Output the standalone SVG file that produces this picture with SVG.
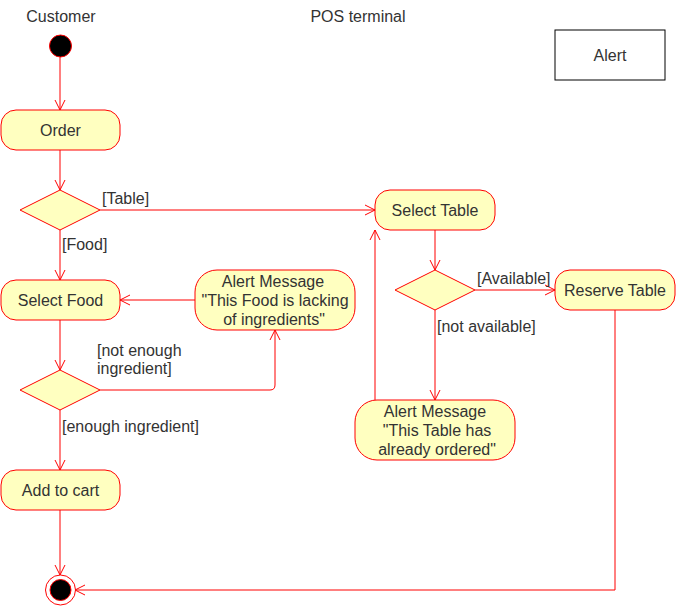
<svg xmlns="http://www.w3.org/2000/svg" width="676" height="606" viewBox="0 0 676 606">
<defs>
<marker id="arr" markerWidth="12" markerHeight="12" refX="10" refY="5" orient="auto" markerUnits="userSpaceOnUse" viewBox="0 0 12 10">
<path d="M0,0 L10,5 L0,10" fill="none" stroke="#FF0000" stroke-width="1"/>
</marker>
<style>
text{font-family:"Liberation Sans",Arial,sans-serif;font-size:16px;fill:#333333}
.c{text-anchor:middle}
.act{fill:#FFFFC0;stroke:#FF0000;stroke-width:1}
.edge{fill:none;stroke:#FF0000;stroke-width:1;marker-end:url(#arr)}
</style>
</defs>
<rect width="676" height="606" fill="#FFFFFF"/>
<g id="lanes">
<text class="c" x="61" y="22">Customer</text>
<text class="c" x="358" y="22">POS terminal</text>
</g>
<g id="alert-legend">
<rect x="555" y="30" width="110" height="50" fill="#FFFFFF" stroke="#000000"/>
<text class="c" x="610" y="61">Alert</text>
</g>
<g id="connectors">
<path class="edge" d="M60,57 L60,110"/>
<path class="edge" d="M60,150 L60,190"/>
<path class="edge" d="M100,210 L375,210"/>
<path class="edge" d="M60,230 L60,280"/>
<path class="edge" d="M195,300 L120,300"/>
<path class="edge" d="M60,320 L60,370"/>
<path class="edge" d="M100,390 L270,390 Q275,390 275,385 L275,330"/>
<path class="edge" d="M60,410 L60,470"/>
<path class="edge" d="M60,510 L60,575"/>
<path class="edge" d="M435,230 L435,270"/>
<path class="edge" d="M475,290 L555,290"/>
<path class="edge" d="M435,310 L435,400"/>
<path class="edge" d="M375,400 L375,230"/>
<path class="edge" d="M615,310 L615,590 L75,590"/>
<text x="102" y="204">[Table]</text>
<text x="62" y="250">[Food]</text>
<text x="97" y="356">[not enough</text>
<text x="97" y="374">ingredient]</text>
<text x="62" y="432">[enough ingredient]</text>
<text x="477" y="284">[Available]</text>
<text x="437" y="332">[not available]</text>
</g>
<g id="start">
<circle cx="60.5" cy="46" r="11" fill="#000000" stroke="#FF0000"/>
</g>
<g id="order">
<rect class="act" x="1" y="110" width="119" height="40" rx="15" ry="15"/>
<text class="c" x="60.5" y="136">Order</text>
</g>
<g id="decision-order">
<polygon class="act" points="60,190 100,210 60,230 20,210"/>
</g>
<g id="select-food">
<rect class="act" x="1" y="280" width="119" height="40" rx="15" ry="15"/>
<text class="c" x="60.5" y="306">Select Food</text>
</g>
<g id="alert-food">
<rect class="act" x="195" y="270" width="160" height="60" rx="22" ry="22"/>
<text class="c" x="273" y="287">Alert Message</text>
<text class="c" x="275" y="306">"This Food is lacking</text>
<text class="c" x="274" y="325">of ingredients"</text>
</g>
<g id="decision-ingredient">
<polygon class="act" points="60,370 100,390 60,410 20,390"/>
</g>
<g id="add-to-cart">
<rect class="act" x="1" y="470" width="119" height="40" rx="15" ry="15"/>
<text class="c" x="60.5" y="496">Add to cart</text>
</g>
<g id="end">
<circle cx="60.5" cy="590" r="15" fill="#FFFFFF" stroke="#FF0000"/>
<circle cx="60.5" cy="590" r="10.5" fill="#000000" stroke="#FF0000"/>
</g>
<g id="select-table">
<rect class="act" x="375" y="190" width="120" height="40" rx="15" ry="15"/>
<text class="c" x="435" y="216">Select Table</text>
</g>
<g id="decision-table">
<polygon class="act" points="435,270 475,290 435,310 395,290"/>
</g>
<g id="reserve-table">
<rect class="act" x="555" y="270" width="120" height="40" rx="15" ry="15"/>
<text class="c" x="615" y="296">Reserve Table</text>
</g>
<g id="alert-table">
<rect class="act" x="355" y="400" width="160" height="60" rx="22" ry="22"/>
<text class="c" x="435" y="417">Alert Message</text>
<text class="c" x="437" y="436">"This Table has</text>
<text class="c" x="437" y="455">already ordered"</text>
</g>
</svg>
